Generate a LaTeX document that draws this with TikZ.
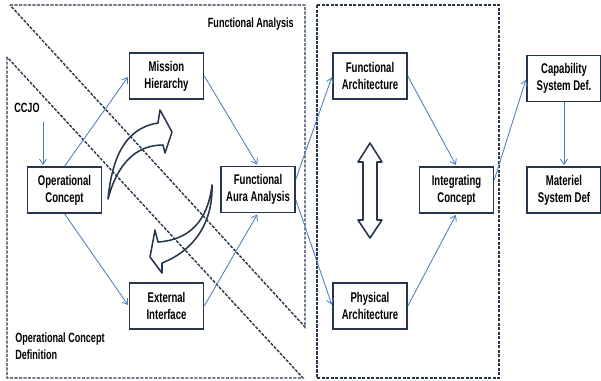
\documentclass[tikz,border=0pt]{standalone}
\usepackage{fontspec}
\setmainfont{Liberation Sans}[FakeStretch=0.68]
\usetikzlibrary{arrows.meta}
\definecolor{boxline}{HTML}{27364B}
\definecolor{flow}{HTML}{4A7EBB}
\begin{document}
\begin{tikzpicture}[x=0.25mm,y=-0.25mm,
	block/.style={draw=boxline,line width=1.1pt,fill=white,align=center,minimum width=18.5mm,minimum height=11.5mm,inner sep=1pt,font=\bfseries\fontsize{10}{12}\selectfont},
	zone/.style={draw=boxline,line width=1pt,dash pattern=on 2.2pt off 1pt},
	flowline/.style={draw=flow,line width=0.6pt,shorten >=1pt,-{Straight Barb[length=3.5pt,width=5pt]}},
	bigarrow/.style={draw=boxline,line width=1.1pt,fill=white,line join=round},
	tag/.style={font=\bfseries\fontsize{9.5}{11.5}\selectfont,inner sep=0pt}]
	\useasboundingbox (0,0) rectangle (601,380);
	\draw[bigarrow] (108,199) .. controls (112,158) and (125,128) .. (158,123) -- (160,110) -- (172,132) -- (165,153) -- (163,145) .. controls (135,145) and (117,165) .. (108,199) -- cycle;
	\draw[bigarrow] (212,185) .. controls (208,220) and (190,240) .. (158,242) -- (155,230) -- (150,257) -- (162,273) -- (162,263) .. controls (195,250) and (213,222) .. (212,185) -- cycle;
	\draw[bigarrow] (370,143) -- (382,162) -- (377,162) -- (377,220) -- (382,220) -- (370,238) -- (358,220) -- (363,220) -- (363,162) -- (358,162) -- cycle;
	\draw[zone] (10,5) -- (305,5) -- (305,327) -- cycle;
	\draw[zone] (7,57) -- (7,378) -- (303,378) -- cycle;
	\draw[zone] (317,5) rectangle (499,378);
	\node[tag,anchor=east] (falabel) at (294,24) {Functional Analysis};
	\node[tag,anchor=north west,align=left] (ocdlabel) at (15,333) {Operational Concept\\Definition};
	\node[tag] (ccjo) at (27,108) {CCJO};
	\coordinate (ccjoin) at (43,122);
	\node[block] (mission) at (166.5,76) {Mission\\Hierarchy};
	\node[block] (opcon) at (64.5,190) {Operational\\Concept};
	\node[block] (faa) at (258,189.5) {Functional\\Aura Analysis};
	\node[block] (extif) at (166.5,306) {External\\Interface};
	\node[block] (funcarch) at (370,76) {Functional\\Architecture};
	\node[block] (physarch) at (370,306) {Physical\\Architecture};
	\node[block] (integ) at (456.5,190) {Integrating\\Concept};
	\node[block] (capab) at (564,78.5) {Capability\\System Def.};
	\node[block] (materiel) at (564,190) {Materiel\\System Def};
	\draw[flowline] (ccjoin) -- (ccjoin |- opcon.north);
	\draw[flowline] (opcon.north) -- (mission.west);
	\draw[flowline] (mission.east) -- (faa.north);
	\draw[flowline] (opcon.south) -- (extif.west);
	\draw[flowline] (extif.east) -- (faa.south);
	\draw[flowline] (faa.15) -- (funcarch.west);
	\draw[flowline] (faa.-15) -- (physarch.west);
	\draw[flowline] (funcarch.east) -- (integ.north);
	\draw[flowline] (physarch.east) -- (integ.south);
	\draw[flowline] (integ.15) -- (capab.west);
	\draw[flowline] (capab.south) -- (materiel.north);
\end{tikzpicture}
\end{document}
